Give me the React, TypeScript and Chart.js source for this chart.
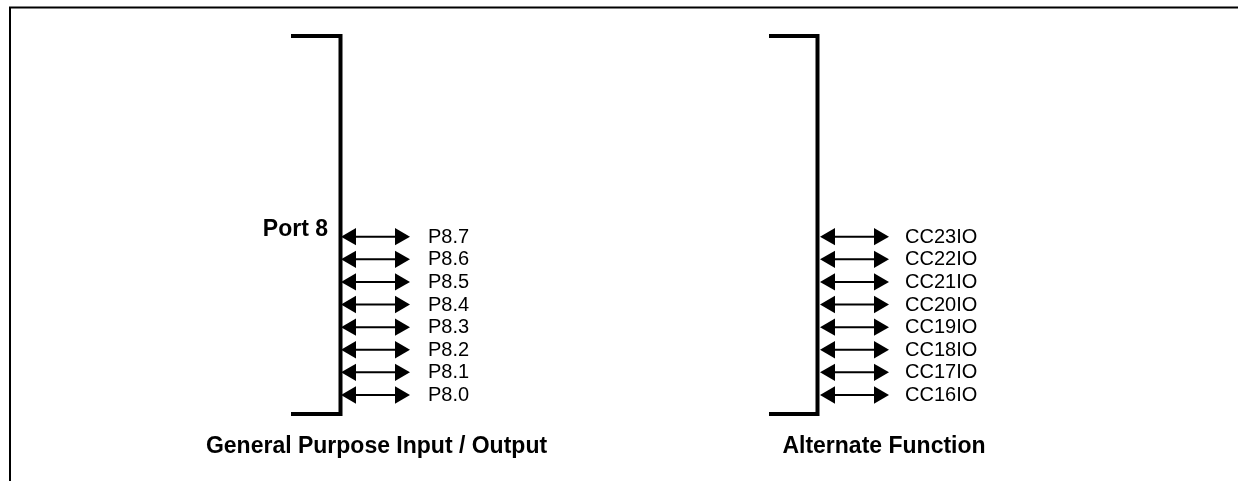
import React, { useEffect, useRef } from "react";
import { Chart, registerables } from "chart.js";

Chart.register(...registerables);

// ---- content ----
const portTitle = "Port 8";
const gpioLabels = ["P8.7", "P8.6", "P8.5", "P8.4", "P8.3", "P8.2", "P8.1", "P8.0"];
const altLabels = ["CC23IO", "CC22IO", "CC21IO", "CC20IO", "CC19IO", "CC18IO", "CC17IO", "CC16IO"];
const groupTitles = ["General Purpose Input / Output", "Alternate Function"];

// ---- layout (x in canvas units, y in "row" units) ----
const W = 1238;
const H = 481;
const ROW0 = 236.7;
const ROW_STEP = 22.61;
const toRow = (px: number) => (px - ROW0) / ROW_STEP;
const Y_MIN = toRow(0);
const Y_MAX = toRow(H);

const HEAD_R = 10;
const FONT = '"Liberation Sans", Arial, Helvetica, sans-serif';

const groups = [
  { labels: gpioLabels, bracketLeft: 291, bracketX: 340.5, arrowFrom: 341, arrowTo: 410, labelX: 428, titleX: 376.5 },
  { labels: altLabels, bracketLeft: 769, bracketX: 817.5, arrowFrom: 820, arrowTo: 889, labelX: 905, titleX: 884 },
];

const FRAME_TOP = toRow(7.5);
const BRACKET_TOP = toRow(36);
const BRACKET_BOTTOM = toRow(414);
const TITLE_BASE = toRow(453);

function buildDatasets() {
  const ds: any[] = [];
  ds.push({
    data: [
      { x: W, y: FRAME_TOP },
      { x: 10, y: FRAME_TOP },
      { x: 10, y: Y_MAX },
    ],
    showLine: true,
    borderColor: "#000",
    borderWidth: 2,
    pointRadius: 0,
    borderJoinStyle: "miter",
  });
  groups.forEach((g) => {
    ds.push({
      data: [
        { x: g.bracketLeft, y: BRACKET_TOP },
        { x: g.bracketX, y: BRACKET_TOP },
        { x: g.bracketX, y: BRACKET_BOTTOM },
        { x: g.bracketLeft, y: BRACKET_BOTTOM },
      ],
      showLine: true,
      borderColor: "#000",
      borderWidth: 4,
      pointRadius: 0,
      borderJoinStyle: "miter",
    });
    g.labels.forEach((_, i) => {
      ds.push({
        data: [
          { x: g.arrowFrom + HEAD_R, y: i },
          { x: g.arrowTo - HEAD_R, y: i },
        ],
        showLine: true,
        borderColor: "#000",
        borderWidth: 2,
        pointStyle: "triangle",
        pointRadius: HEAD_R,
        pointRotation: [270, 90],
        pointBackgroundColor: "#000",
        pointBorderColor: "#000",
        pointBorderWidth: 0,
      });
    });
  });
  return ds;
}

const textPlugin = {
  id: "diagramText",
  afterDatasetsDraw(chart: any) {
    const { ctx, scales } = chart;
    const xs = scales.x;
    const ys = scales.y;
    ctx.save();
    ctx.fillStyle = "#000";
    // Port title
    ctx.font = `bold 23px ${FONT}`;
    ctx.textAlign = "right";
    ctx.textBaseline = "alphabetic";
    ctx.fillText(portTitle, xs.getPixelForValue(328), ys.getPixelForValue(0) - 1);
    // row labels
    ctx.font = `20px ${FONT}`;
    ctx.textAlign = "left";
    groups.forEach((g) => {
      g.labels.forEach((lab, i) => {
        ctx.fillText(lab, xs.getPixelForValue(g.labelX), ys.getPixelForValue(i) + 6);
      });
    });
    // group titles
    ctx.font = `bold 23px ${FONT}`;
    ctx.textAlign = "center";
    groups.forEach((g, k) => {
      ctx.fillText(groupTitles[k], xs.getPixelForValue(g.titleX), ys.getPixelForValue(TITLE_BASE));
    });
    ctx.restore();
  },
};

export default function App() {
  const ref = useRef<HTMLCanvasElement>(null);
  useEffect(() => {
    if (!ref.current) return;
    const chart = new Chart(ref.current, {
      type: "scatter",
      data: { datasets: buildDatasets() },
      options: {
        animation: false,
        responsive: false,
        devicePixelRatio: 1,
        events: [],
        clip: false as any,
        layout: { padding: 0, autoPadding: false } as any,
        plugins: { legend: { display: false }, tooltip: { enabled: false } },
        scales: {
          x: { type: "linear", min: 0, max: W, display: false },
          y: { type: "linear", min: Y_MIN, max: Y_MAX, reverse: true, display: false },
        },
      },
      plugins: [textPlugin],
    });
    return () => chart.destroy();
  }, []);
  return (
    <div style={{ position: "absolute", left: 0, top: 0, width: W, height: H, background: "#fff" }}>
      <canvas ref={ref} width={W} height={H} style={{ display: "block" }} />
    </div>
  );
}
